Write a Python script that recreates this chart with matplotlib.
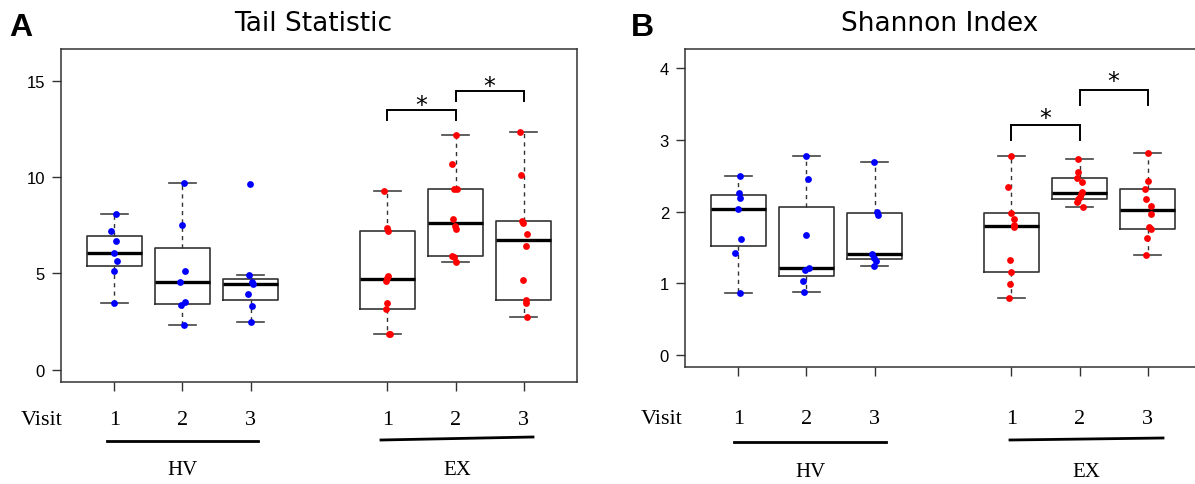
import matplotlib
matplotlib.use("Agg")
import matplotlib.pyplot as plt
import numpy as np
from matplotlib.lines import Line2D

# ---------------- data ----------------
positions = [1, 2, 3, 5, 6, 7]
visit_labels = ["1", "2", "3", "1", "2", "3"]
group_labels = ["HV", "EX"]
group_colors = ["#0000FF", "#0000FF", "#0000FF", "#FF0000", "#FF0000", "#FF0000"]

# Tail Statistic values (per group: HV visit1..3, EX visit1..3)
tail_hv1 = [8.08, 7.17, 6.70, 6.08, 5.65, 5.10, 3.47]
tail_hv2 = [9.71, 7.51, 5.11, 4.53, 3.49, 3.33, 2.30]
tail_hv3 = [9.65, 4.89, 4.53, 4.42, 3.92, 3.32, 2.47]
tail_ex1 = [9.26, 7.34, 7.19, 4.87, 4.77, 4.59, 3.47, 3.16, 1.85, 1.85]
tail_ex2 = [12.18, 10.66, 9.36, 9.36, 7.81, 7.46, 7.29, 5.91, 5.84, 5.61]
tail_ex3 = [12.32, 10.10, 7.72, 7.62, 7.05, 6.44, 4.63, 3.63, 3.45, 2.73]

# horizontal jitter of each dot (in category units)
tail_jit_hv1 = [0.03, -0.05, 0.02, -0.01, 0.034, 0.0, -0.01]
tail_jit_hv2 = [0.024, 0.0, 0.039, -0.039, 0.044, -0.015, 0.02]
tail_jit_hv3 = [-0.005, -0.03, 0.024, 0.034, -0.034, 0.015, 0.005]
tail_jit_ex1 = [-0.044, -0.01, 0.015, 0.015, 0.0, -0.02, -0.005, -0.02, 0.02, 0.04]
tail_jit_ex2 = [0.0, -0.05, -0.02, 0.015, -0.03, -0.01, 0.01, -0.05, -0.02, 0.0]
tail_jit_ex3 = [-0.05, -0.034, -0.02, -0.015, 0.044, 0.03, -0.005, 0.034, 0.03, 0.044]

# Shannon Index values
shan_hv1 = [2.50, 2.26, 2.19, 2.03, 1.625, 1.42, 0.86]
shan_hv2 = [2.77, 2.46, 1.68, 1.21, 1.18, 1.03, 0.88]
shan_hv3 = [2.69, 2.00, 1.95, 1.41, 1.36, 1.31, 1.24]
shan_ex1 = [2.77, 2.34, 1.98, 1.90, 1.815, 1.79, 1.32, 1.16, 0.995, 0.80]
shan_ex2 = [2.73, 2.55, 2.47, 2.41, 2.27, 2.24, 2.20, 2.17, 2.13, 2.065]
shan_ex3 = [2.82, 2.42, 2.31, 2.17, 2.08, 1.96, 1.78, 1.76, 1.63, 1.40]

shan_jit_hv1 = [0.024, 0.01, 0.03, -0.005, 0.034, -0.044, 0.024]
shan_jit_hv2 = [-0.01, 0.02, 0.0, 0.034, -0.024, -0.044, -0.034]
shan_jit_hv3 = [-0.015, 0.04, 0.044, -0.034, -0.015, 0.024, -0.015]
shan_jit_ex1 = [0.0, -0.044, -0.005, 0.034, 0.04, 0.034, -0.015, 0.0, -0.024, -0.04]
shan_jit_ex2 = [-0.02, -0.024, -0.03, 0.03, 0.03, 0.015, 0.0, -0.024, -0.04, 0.044]
shan_jit_ex3 = [0.0, 0.005, -0.044, -0.024, 0.05, 0.054, 0.015, 0.05, -0.01, -0.024]

# significance brackets: (x_from, x_to, top, leg_bottom, star_y)
tail_brackets = [(5, 6, 13.49, 12.95, 13.75), (6, 7, 14.47, 13.94, 14.73)]
shan_brackets = [(5, 6, 3.20, 2.99, 3.31), (6, 7, 3.70, 3.49, 3.82)]

tail_yticks = [0, 5, 10, 15]
shan_yticks = [0, 1, 2, 3, 4]

# ---------------- helpers ----------------
W, H = 1195, 485


def fx(px):
    return px / W


def fy(py):
    return 1 - py / H


def fivenum(x):
    x = np.sort(np.asarray(x, float))
    n = len(x)
    n4 = np.floor((n + 3) / 2) / 2
    d = np.array([1, n4, (n + 1) / 2, n + 1 - n4, n]) - 1
    return 0.5 * (x[np.floor(d).astype(int)] + x[np.ceil(d).astype(int)])


def box_stats(x):
    x = np.asarray(x, float)
    lo, q1, med, q3, hi = fivenum(x)
    iqr = q3 - q1
    wlo = x[x >= q1 - 1.5 * iqr].min()
    whi = x[x <= q3 + 1.5 * iqr].max()
    return dict(med=med, q1=q1, q3=q3, whislo=wlo, whishi=whi, fliers=[])


fig = plt.figure(figsize=(W / 100, H / 100), dpi=100)

EDGE = "#333333"


def draw_panel(ax, data, jitter, yticks, ylim, brackets):
    stats = [box_stats(d) for d in data]
    ax.bxp(stats, positions=positions, widths=0.8, capwidths=0.4,
           showfliers=False, manage_ticks=False,
           boxprops=dict(color=EDGE, lw=1.2),
           whiskerprops=dict(color=EDGE, lw=1.0, linestyle=(0, (3, 3))),
           capprops=dict(color="#444444", lw=1.2),
           medianprops=dict(color="black", lw=2.4, solid_capstyle="butt"))
    for p, d, j, c in zip(positions, data, jitter, group_colors):
        ax.scatter(np.array(j) + p, d, s=24, color=c, zorder=4, linewidths=0)
    ax.set_xlim(0.22, 7.78)
    ax.set_ylim(*ylim)
    ax.set_yticks(yticks)
    ax.set_yticklabels([str(t) for t in yticks], fontsize=12,
                       family="Liberation Sans")
    ax.set_xticks(positions)
    ax.set_xticklabels([])
    ax.tick_params(axis="both", direction="out", length=6.5, width=1.0,
                   color=EDGE, pad=5)
    for s in ax.spines.values():
        s.set_color(EDGE)
        s.set_linewidth(1.1)
    for x0, x1, top, bot, sy in brackets:
        ax.plot([x0, x0, x1, x1], [bot, top, top, bot], color="black",
                lw=1.4, solid_joinstyle="miter", zorder=5)
        ax.text((x0 + x1) / 2, sy, "*", ha="center", va="center",
                fontsize=17, family="DejaVu Sans")


# left panel: axes 61..577 px wide, 50..383 px tall
ax1 = fig.add_axes([fx(61), fy(383), fx(577) - fx(61), fy(50) - fy(383)])
draw_panel(ax1,
           [tail_hv1, tail_hv2, tail_hv3, tail_ex1, tail_ex2, tail_ex3],
           [tail_jit_hv1, tail_jit_hv2, tail_jit_hv3,
            tail_jit_ex1, tail_jit_ex2, tail_jit_ex3],
           tail_yticks, (-0.64, 16.64), tail_brackets)

# right panel: axes 685..1201 px (clipped at the figure edge), 50..368 px
ax2 = fig.add_axes([fx(685), fy(368), fx(1201) - fx(685), fy(50) - fy(368)])
draw_panel(ax2,
           [shan_hv1, shan_hv2, shan_hv3, shan_ex1, shan_ex2, shan_ex3],
           [shan_jit_hv1, shan_jit_hv2, shan_jit_hv3,
            shan_jit_ex1, shan_jit_ex2, shan_jit_ex3],
           shan_yticks, (-0.164, 4.264), shan_brackets)

# titles and panel letters
fig.text(fx(313), fy(24), "Tail Statistic", ha="center", va="center",
         fontsize=19, family="DejaVu Sans")
fig.text(fx(940), fy(24), "Shannon Index", ha="center", va="center",
         fontsize=19, family="DejaVu Sans")
fig.text(fx(9), fy(28), "A", ha="left", va="center", fontsize=23,
         fontweight="bold", family="Liberation Sans")
fig.text(fx(631), fy(28), "B", ha="left", va="center", fontsize=23,
         fontweight="bold", family="Liberation Sans")

# bottom annotations (Visit / numbers / group underline / group name)
serif = "Liberation Serif"


def bottom_labels(ax, visit_x, num_y, line_specs, grp_y):
    fig.text(fx(visit_x), fy(num_y), "Visit", ha="center", va="center",
             fontsize=16, family=serif)
    for p, lab in zip(positions, visit_labels):
        xpix = ax.transData.transform((p, 0))[0]
        fig.text(xpix / W, fy(num_y), lab, ha="center", va="center",
                 fontsize=16, family=serif)
    for (xa, ya, xb, yb), name in zip(line_specs, group_labels):
        fig.add_artist(Line2D([fx(xa), fx(xb)], [fy(ya), fy(yb)],
                              transform=fig.transFigure, color="black",
                              lw=2.0))
        fig.text(fx((xa + xb) / 2), fy(grp_y), name, ha="center",
                 va="center", fontsize=15, family=serif)


fig.canvas.draw()
bottom_labels(ax1, 42, 421, [(107, 442, 258, 442), (381, 441, 533, 438)], 471)
bottom_labels(ax2, 662, 419, [(734, 443, 886, 443), (1010, 441, 1163, 439)], 473)

fig.savefig("out.png", dpi=100)
